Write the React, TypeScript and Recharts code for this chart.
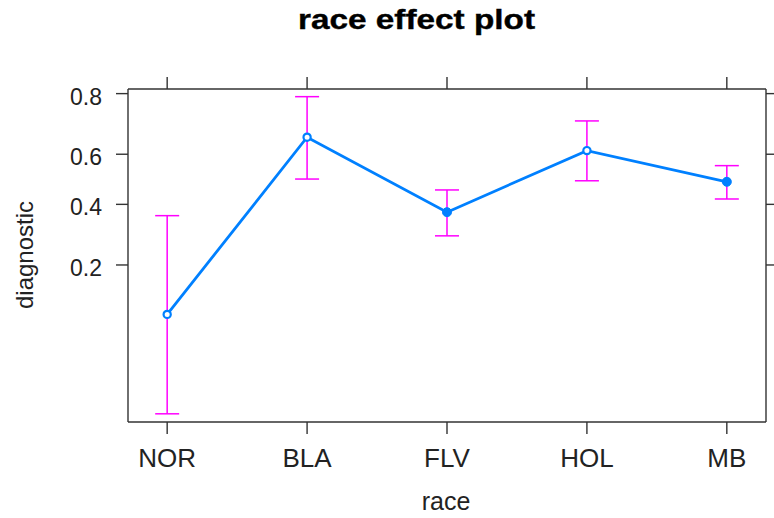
import { LineChart, Line, XAxis, YAxis, ErrorBar, Label } from 'recharts'

// fitted probabilities with 95% limits per race (drawn on the logit scale)
const races = ['NOR', 'BLA', 'FLV', 'HOL', 'MB']
const fitted = [0.101, 0.664, 0.37, 0.614, 0.49]
const lower = [0.022, 0.501, 0.286, 0.494, 0.421]
const upper = [0.357, 0.792, 0.457, 0.72, 0.555]
const probTicks = [0.2, 0.4, 0.6, 0.8]

const LINE = '#0080ff'
const BAR = '#ff00ff'
const AXIS = '#333333'
const FONT = '"Liberation Sans", Arial, Helvetica, sans-serif'

const logit = (p: number) => Math.log(p / (1 - p))

const yDomain = [-3.927, 1.461]
const xDomain = [-0.28, races.length - 1 + 0.28]
const xTicks = races.map((_, i) => i)
const yTicks = probTicks.map(logit)

const data = races.map((race, i) => {
  const fit = logit(fitted[i])
  return {
    idx: i,
    race,
    fit,
    err: [fit - logit(lower[i]), logit(upper[i]) - fit],
  }
})

function YTick(props: any) {
  const { x, y, payload } = props
  const p = 1 / (1 + Math.exp(-payload.value))
  return (
    <text x={x} y={y} dy={11} textAnchor="end" fontSize={23} fontFamily={FONT} fill="#222">
      {p.toFixed(1)}
    </text>
  )
}

function XTick(props: any) {
  const { x, y, payload } = props
  return (
    <text x={x} y={y} dy={27} textAnchor="middle" fontSize={26} fontFamily={FONT} fill="#222">
      {races[payload.value]}
    </text>
  )
}

// tick marks only, no labels (top and right sides of the box)
const NoLabel = () => <g />

function Marker(props: any) {
  const { cx, cy, index } = props
  const solid = index === 2 || index === 4
  return (
    <circle
      key={`m-${index}`}
      cx={cx}
      cy={cy}
      r={solid ? 4.5 : 3.6}
      fill={solid ? LINE : '#fff'}
      stroke={LINE}
      strokeWidth={solid ? 1 : 2.2}
    />
  )
}

export default function App() {
  return (
    <div style={{ position: 'absolute', left: 0, top: 0, background: '#fff' }}>
      <LineChart
        width={774}
        height={518}
        data={data}
        margin={{ top: 77, right: 0, bottom: 36, left: 48 }}
      >
        <XAxis
          xAxisId="bottom"
          dataKey="idx"
          type="number"
          domain={xDomain}
          ticks={xTicks}
          allowDataOverflow
          height={60}
          tickSize={12}
          tickMargin={6}
          tick={<XTick />}
          stroke={AXIS}
          strokeWidth={1.4}
        >
          <Label
            content={() => (
              <text x={446} y={510} textAnchor="middle" fontSize={25} fontFamily={FONT} fill="#222">
                race
              </text>
            )}
          />
        </XAxis>
        <XAxis
          xAxisId="top"
          orientation="top"
          dataKey="idx"
          type="number"
          domain={xDomain}
          ticks={xTicks}
          allowDataOverflow
          height={12}
          tickSize={12}
          tick={<NoLabel />}
          stroke={AXIS}
          strokeWidth={1.4}
        >
          <Label
            content={() => (
              <text
                x={298}
                y={29}
                textLength={237}
                lengthAdjust="spacingAndGlyphs"
                fontSize={28}
                fontWeight="bold"
                fontFamily={FONT}
                fill="#000"
                stroke="#000"
                strokeWidth={0.4}
              >
                race effect plot
              </text>
            )}
          />
        </XAxis>
        <YAxis
          yAxisId="left"
          type="number"
          domain={yDomain}
          ticks={yTicks}
          allowDataOverflow
          width={80}
          tickSize={12}
          tickMargin={14}
          tick={<YTick />}
          stroke={AXIS}
          strokeWidth={1.4}
        >
          <Label
            content={() => (
              <text
                x={33}
                y={255}
                transform="rotate(-90 33 255)"
                textAnchor="middle"
                fontSize={24}
                fontFamily={FONT}
                fill="#222"
              >
                diagnostic
              </text>
            )}
          />
        </YAxis>
        <YAxis
          yAxisId="right"
          orientation="right"
          type="number"
          domain={yDomain}
          ticks={yTicks}
          allowDataOverflow
          width={8}
          tickSize={12}
          tick={<NoLabel />}
          stroke={AXIS}
          strokeWidth={1.4}
        />
        <Line
          xAxisId="bottom"
          yAxisId="left"
          dataKey="fit"
          type="linear"
          stroke={LINE}
          strokeWidth={2.8}
          dot={<Marker />}
          activeDot={false}
          isAnimationActive={false}
        >
          <ErrorBar
            dataKey="err"
            direction="y"
            width={12}
            stroke={BAR}
            strokeWidth={1.5}
            isAnimationActive={false}
          />
        </Line>
      </LineChart>
    </div>
  )
}
